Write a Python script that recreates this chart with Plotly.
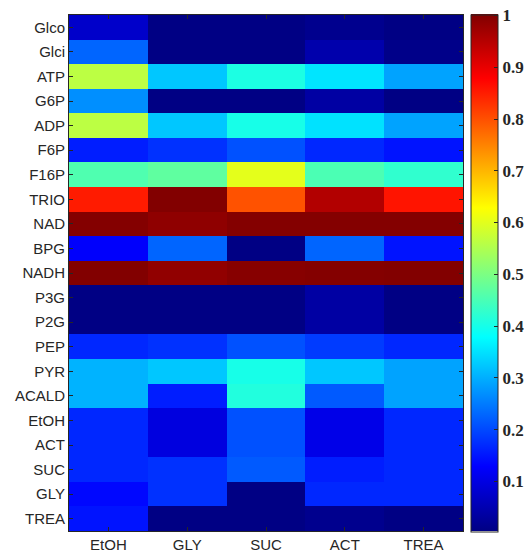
import plotly.graph_objects as go

conditions = ["EtOH", "GLY", "SUC", "ACT", "TREA"]
metabolites = ["Glco", "Glci", "ATP", "G6P", "ADP", "F6P", "F16P", "TRIO", "NAD", "BPG",
               "NADH", "P3G", "P2G", "PEP", "PYR", "ACALD", "EtOH", "ACT", "SUC", "GLY", "TREA"]

# values per metabolite row, columns follow `conditions`
v_Glco  = [0.074, 0.003, 0.003, 0.013, 0.003]
v_Glci  = [0.227, 0.003, 0.003, 0.044, 0.008]
v_ATP   = [0.562, 0.323, 0.405, 0.352, 0.288]
v_G6P   = [0.268, 0.003, 0.003, 0.034, 0.003]
v_ADP   = [0.562, 0.323, 0.400, 0.349, 0.288]
v_F6P   = [0.156, 0.176, 0.207, 0.166, 0.146]
v_F16P  = [0.455, 0.471, 0.601, 0.451, 0.425]
v_TRIO  = [0.851, 1.0, 0.797, 0.953, 0.858]
v_NAD   = [0.998, 0.987, 0.998, 0.998, 0.998]
v_BPG   = [0.125, 0.227, 0.003, 0.227, 0.146]
v_NADH  = [1.0, 0.985, 0.995, 0.998, 1.0]
v_P3G   = [0.003, 0.003, 0.003, 0.034, 0.003]
v_P2G   = [0.003, 0.003, 0.003, 0.034, 0.003]
v_PEP   = [0.166, 0.176, 0.207, 0.186, 0.166]
v_PYR   = [0.303, 0.323, 0.400, 0.323, 0.288]
v_ACALD = [0.303, 0.156, 0.410, 0.216, 0.288]
v_EtOH  = [0.166, 0.095, 0.207, 0.105, 0.166]
v_ACT   = [0.166, 0.095, 0.207, 0.105, 0.166]
v_SUC   = [0.166, 0.176, 0.216, 0.156, 0.166]
v_GLY   = [0.135, 0.176, 0.003, 0.166, 0.166]
v_TREA  = [0.146, 0.003, 0.003, 0.013, 0.003]

z = [v_Glco, v_Glci, v_ATP, v_G6P, v_ADP, v_F6P, v_F16P, v_TRIO, v_NAD, v_BPG,
     v_NADH, v_P3G, v_P2G, v_PEP, v_PYR, v_ACALD, v_EtOH, v_ACT, v_SUC, v_GLY, v_TREA]

cbar_ticks = [0.1, 0.2, 0.3, 0.4, 0.5, 0.6, 0.7, 0.8, 0.9, 1]
cbar_labels = ["0.1", "0.2", "0.3", "0.4", "0.5", "0.6", "0.7", "0.8", "0.9", "1"]

jet = [[0.0, "rgb(0,0,132)"], [0.125, "rgb(0,0,255)"], [0.375, "rgb(0,255,255)"],
       [0.625, "rgb(255,255,0)"], [0.875, "rgb(255,0,0)"], [1.0, "rgb(128,0,0)"]]

# page body has an 8px margin, so the figure is sized to fit inside the window
OFF = 8
W, H = 532 - OFF, 557 - OFF
L, T = 69 - OFF, 15 - OFF
R = W - (463 - OFF)
B = H - (531 - OFF)
pw = W - L - R

fig = go.Figure(go.Heatmap(
    z=z, x=conditions, y=metabolites,
    colorscale=jet, zmin=0.003, zmax=1.002,
    colorbar=dict(
        x=(471 - 69) / pw, xanchor="left", xpad=0, ypad=0,
        y=0.5, yanchor="middle", len=1.002, lenmode="fraction",
        thickness=27, thicknessmode="pixels",
        outlinewidth=1, outlinecolor="#262626",
        tickvals=cbar_ticks, ticktext=cbar_labels,
        ticks="inside", ticklen=4, tickcolor="#262626",
        ticklabeloverflow="allow",
        tickfont=dict(family="Liberation Serif", size=17, color="#262626", weight="bold"),
    ),
))

fig.update_layout(
    width=W, height=H,
    margin=dict(l=L, r=R, t=T, b=B, autoexpand=False),
    paper_bgcolor="white", plot_bgcolor="white",
    font=dict(family="Liberation Sans", size=15, color="#262626"),
)
fig.update_xaxes(
    automargin=False,
    showline=True, linecolor="#262626", linewidth=1, mirror="ticks",
    ticks="inside", ticklen=4, tickcolor="#262626",
    tickfont=dict(size=15, family="Liberation Sans", color="#262626"),
    showgrid=False, zeroline=False,
)
fig.update_yaxes(
    automargin=False, autorange="reversed",
    showline=True, linecolor="#262626", linewidth=1, mirror="ticks",
    ticks="inside", ticklen=4, tickcolor="#262626",
    tickfont=dict(size=15, family="Liberation Sans", color="#262626"),
    showgrid=False, zeroline=False,
)

fig.write_html("out.html")
